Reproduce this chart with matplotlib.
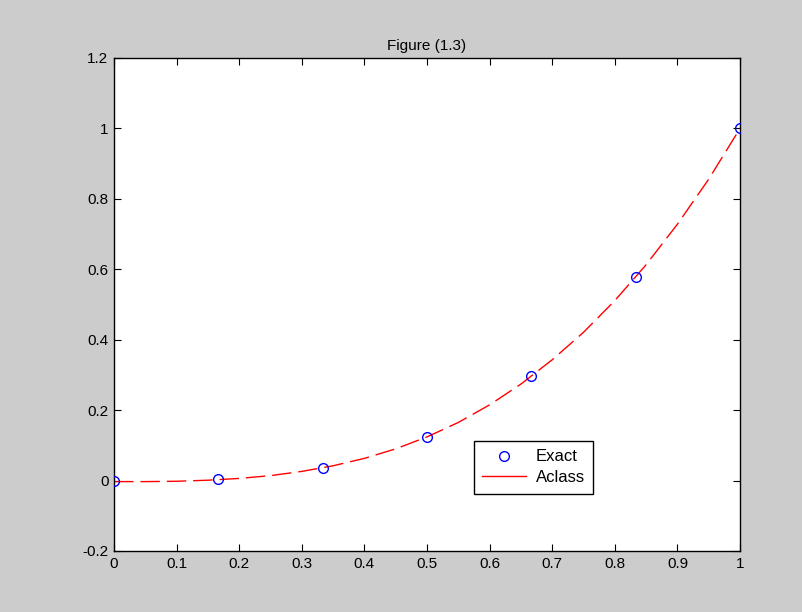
import matplotlib
matplotlib.use('agg')
import matplotlib.pyplot as plt

# exact solution, sampled at 7 points
x_exact = [0, 1/6, 2/6, 3/6, 4/6, 5/6, 1]
y_exact = [0.0, 0.0046, 0.037, 0.125, 0.296, 0.579, 1.0]

# approximate (Aclass) curve
x_aclass = [0, 0.05, 0.1, 0.15, 0.2, 0.25, 0.3, 0.35, 0.4, 0.45, 0.5,
            0.55, 0.6, 0.65, 0.7, 0.75, 0.8, 0.85, 0.9, 0.95, 1.0]
y_aclass = [-0.003, -0.003, -0.002, 0.001, 0.006, 0.014, 0.026, 0.042, 0.063, 0.090, 0.124,
            0.165, 0.215, 0.274, 0.343, 0.421, 0.511, 0.613, 0.728, 0.856, 1.0]

xticks = [0, 0.1, 0.2, 0.3, 0.4, 0.5, 0.6, 0.7, 0.8, 0.9, 1]
xlabels = ['0', '0.1', '0.2', '0.3', '0.4', '0.5', '0.6', '0.7', '0.8', '0.9', '1']
yticks = [-0.2, 0, 0.2, 0.4, 0.6, 0.8, 1, 1.2]
ylabels = ['-0.2', '0', '0.2', '0.4', '0.6', '0.8', '1', '1.2']

plt.rcParams['font.family'] = ['Liberation Sans', 'DejaVu Sans']

fig = plt.figure(figsize=(8.03, 6.12), dpi=100, facecolor='#cccccc')
ax = fig.add_axes([0.142, 0.0997, 0.7796, 0.8056])
ax.set_facecolor('white')

ax.plot(x_exact, y_exact, 'o', mfc='none', mec='blue', ms=7, mew=1, label='Exact', zorder=3)
ax.plot(x_aclass, y_aclass, color='red', lw=1, dashes=(14, 5), label='Aclass')

ax.set_xlim(0, 1)
ax.set_ylim(-0.2, 1.2)
ax.set_xticks(xticks)
ax.set_xticklabels(xlabels)
ax.set_yticks(yticks)
ax.set_yticklabels(ylabels)
ax.tick_params(direction='in', top=True, right=True, length=5, labelsize=11, pad=4)
for s in ax.spines.values():
    s.set_linewidth(1)
ax.set_title('Figure (1.3)', fontsize=11, pad=6)

leg = ax.legend(loc='upper left', bbox_to_anchor=(0.575, 0.223), fontsize=12,
                fancybox=False, framealpha=1, edgecolor='black',
                handlelength=2.6, handletextpad=0.6, borderpad=0.5,
                labelspacing=0.35, borderaxespad=0)
leg.get_frame().set_linewidth(1)
leg.get_lines()[1].set_linestyle('-')

fig.savefig('out.png', dpi=100, facecolor=fig.get_facecolor())
